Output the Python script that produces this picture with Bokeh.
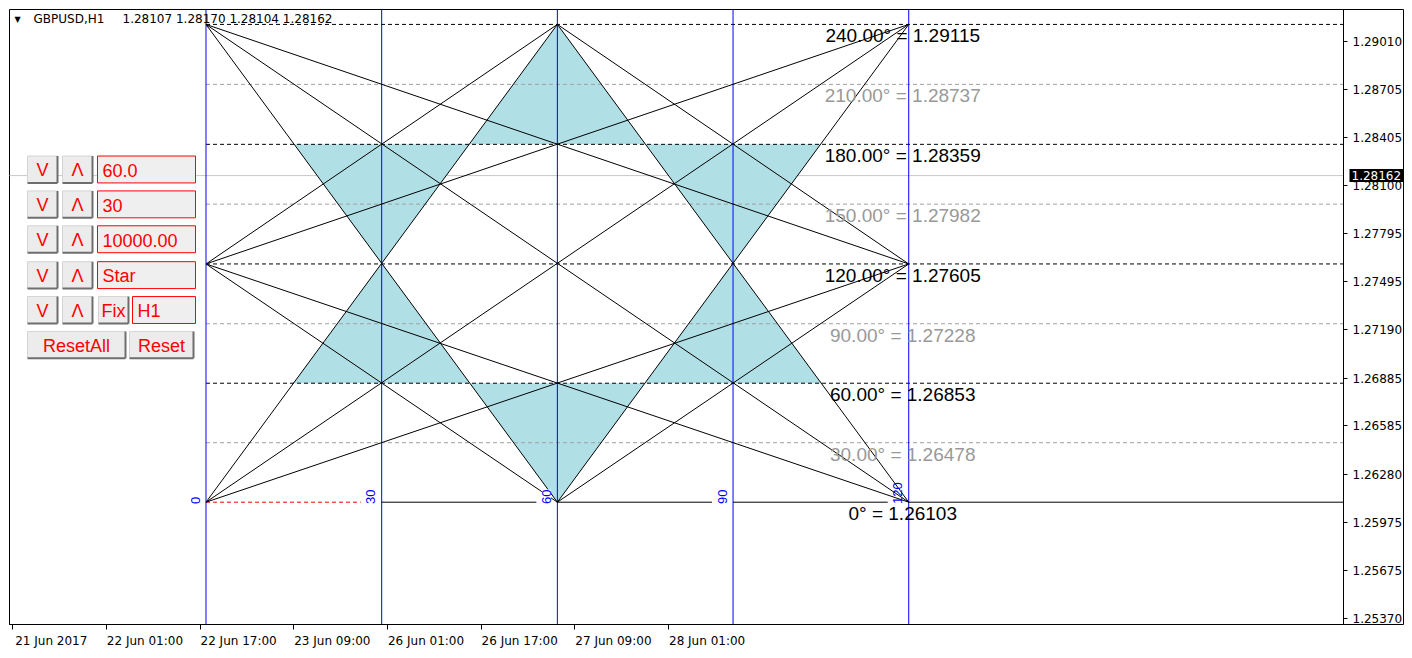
from math import pi
from bokeh.plotting import figure
from bokeh.models import (FixedTicker, NumeralTickFormatter, Label, LinearAxis,
                          CustomJSTickFormatter)
from bokeh.core.properties import value
from bokeh.embed import file_html
from bokeh.resources import INLINE

# ---------------- data ----------------
symbol = "GBPUSD,H1"
ohlc = ["1.28107", "1.28170", "1.28104", "1.28162"]
last_price = 1.28162

vline_bars = [0, 30, 60, 90, 120]
vline_labels = ["0", "30", "60", "90", "120"]
level_degrees = [0, 30, 60, 90, 120, 150, 180, 210, 240]
level_prices = [1.26103, 1.26478, 1.26853, 1.27228, 1.27605, 1.27982, 1.28359, 1.28737, 1.29115]

# star lines: (vertical-line index, level index) -> (vertical-line index, level index)
star_from = [(0, 8), (0, 8), (0, 8), (0, 4), (0, 4), (0, 4), (0, 4),
             (0, 0), (0, 0), (0, 0), (2, 8), (2, 8), (2, 0), (2, 0)]
star_to = [(2, 0), (4, 0), (4, 4), (2, 8), (4, 8), (2, 0), (4, 0),
           (2, 8), (4, 8), (4, 4), (4, 4), (4, 0), (4, 4), (4, 8)]

y_ticks = [1.29010, 1.28705, 1.28405, 1.28100, 1.27795, 1.27495, 1.27190,
           1.26885, 1.26585, 1.26280, 1.25975, 1.25675, 1.25370]
x_tick_bars = [-33, -17, -1, 15, 31, 47, 63, 79]
x_tick_labels = ["21 Jun 2017", "22 Jun 01:00", "22 Jun 17:00", "23 Jun 09:00",
                 "26 Jun 01:00", "26 Jun 17:00", "27 Jun 09:00", "28 Jun 01:00"]

panel_inputs = ["60.0", "30", "10000.00", "Star", "H1"]

# ---------------- layout ----------------
W, H = 1404, 650
FRAME_H = 617
BAR_PX = 5.856
X_START = -(205.5 - 9) / BAR_PX
X_END = X_START + (W - 9) / BAR_PX          # frame also spans the price scale
Y_BOT, Y_TOP = 1.25332, 1.29209
PRICE_PX = FRAME_H / (Y_TOP - Y_BOT)


def px2x(px):
    return X_START + (px - 9) / BAR_PX


def px2y(py):
    return Y_TOP - (py - 9) / PRICE_PX


CHART_R = px2x(1343)   # right edge of the chart window (price-scale line)

p = figure(width=W, height=H, x_range=(X_START, X_END), y_range=(Y_BOT, Y_TOP),
           y_axis_location="right", output_backend="svg", toolbar_location=None,
           min_border_left=9, min_border_top=9, min_border_right=0, min_border_bottom=24)
p.grid.visible = False
p.outline_line_color = "black"
p.background_fill_color = "white"
p.border_fill_color = "white"

# price scale (drawn at the chart's right edge)
p.yaxis.fixed_location = CHART_R
p.yaxis.ticker = FixedTicker(ticks=y_ticks)
p.yaxis.formatter = NumeralTickFormatter(format="0.00000")
p.yaxis.major_tick_out = 4
p.yaxis.major_tick_in = 0
p.yaxis.minor_tick_line_color = None
p.yaxis.major_label_standoff = 5
p.yaxis.major_label_text_font = "DejaVu Sans"
p.yaxis.major_label_text_font_size = "12px"
p.yaxis.major_label_text_color = "black"
p.yaxis.axis_line_color = "black"

# time scale: ticks on the main axis, labels (starting at each tick) on a second axis
p.xaxis.ticker = FixedTicker(ticks=x_tick_bars)
p.xaxis.formatter = CustomJSTickFormatter(code="return ''")
p.xaxis.bounds = (X_START, CHART_R)
p.xaxis.major_tick_out = 5
p.xaxis.major_tick_in = 0
p.xaxis.minor_tick_line_color = None
p.xaxis.major_label_text_font_size = "1px"
p.xaxis.major_label_standoff = 0
p.xaxis.axis_line_color = "black"

LABEL_HALF_PX = 38.5
lab_axis = LinearAxis(
    ticker=FixedTicker(ticks=[b + LABEL_HALF_PX / BAR_PX for b in x_tick_bars]),
    formatter=CustomJSTickFormatter(args=dict(labels=x_tick_labels),
                                    code="return labels[index] || ''"),
    axis_line_color=None, major_tick_line_color=None, minor_tick_line_color=None,
    major_label_standoff=-2, major_label_text_font="DejaVu Sans",
    major_label_text_font_size="12px", major_label_text_color="black")
p.add_layout(lab_axis, "below")

# current price line
p.segment(x0=[X_START - 1], y0=[last_price], x1=[CHART_R], y1=[last_price],
          line_color="#c8c8c8", line_width=1)


# ---------------- star geometry ----------------
def pt(ix):
    vi, li = ix
    return vline_bars[vi], level_prices[li]


def x_on(line, y):
    (x0, y0), (x1, y1) = pt(line[0]), pt(line[1])
    return x0 + (y - y0) * (x1 - x0) / (y1 - y0)


def cross(l1, l2):
    (x1, y1), (x2, y2) = pt(l1[0]), pt(l1[1])
    (x3, y3), (x4, y4) = pt(l2[0]), pt(l2[1])
    den = (x1 - x2) * (y3 - y4) - (y1 - y2) * (x3 - x4)
    t = ((x1 - x3) * (y3 - y4) - (y1 - y3) * (x3 - x4)) / den
    return x1 + t * (x2 - x1), y1 + t * (y2 - y1)


A = ((0, 8), (2, 0))
Hh = ((0, 0), (2, 8))
Lr = ((2, 8), (4, 0))
N = ((2, 0), (4, 8))
L2, L6 = level_prices[2], level_prices[6]

tris = []
tris.append([pt((2, 8)), (x_on(Hh, L6), L6), (x_on(Lr, L6), L6)])
tris.append([cross(A, Hh), (x_on(A, L6), L6), (x_on(Hh, L6), L6)])
tris.append([cross(N, Lr), (x_on(N, L6), L6), (x_on(Lr, L6), L6)])
tris.append([cross(A, Hh), (x_on(A, L2), L2), (x_on(Hh, L2), L2)])
tris.append([cross(N, Lr), (x_on(N, L2), L2), (x_on(Lr, L2), L2)])
tris.append([pt((2, 0)), (x_on(A, L2), L2), (x_on(N, L2), L2)])
p.patches([[v[0] for v in t] for t in tris], [[v[1] for v in t] for t in tris],
          fill_color="#b0e0e6", line_color=None)

# level lines
blk = [i for i, d in enumerate(level_degrees) if d > 0 and d % 60 == 0]
gry = [i for i, d in enumerate(level_degrees) if d % 60 != 0]
for idx, col in ((blk, "black"), (gry, "#a0a0a0")):
    p.segment(x0=[vline_bars[0]] * len(idx), y0=[level_prices[i] for i in idx],
              x1=[CHART_R] * len(idx), y1=[level_prices[i] for i in idx],
              line_color=col, line_width=1, line_dash="4 3")

# vertical lines
p.segment(x0=vline_bars, y0=[Y_BOT - 1] * len(vline_bars), x1=vline_bars,
          y1=[Y_TOP + 1] * len(vline_bars), line_color="#0000ff", line_width=1)

# zero level
gap = 21 / BAR_PX
p.segment(x0=[vline_bars[0]], y0=[level_prices[0]], x1=[vline_bars[1] - gap],
          y1=[level_prices[0]], line_color="red", line_dash="4 3", line_width=1)
z_x0 = vline_bars[1:]
z_x1 = [b - gap for b in vline_bars[2:]] + [CHART_R]
p.segment(x0=z_x0, y0=[level_prices[0]] * len(z_x0), x1=z_x1,
          y1=[level_prices[0]] * len(z_x0), line_color="black", line_width=1)

# star lines
p.segment(x0=[pt(a)[0] for a in star_from], y0=[pt(a)[1] for a in star_from],
          x1=[pt(b)[0] for b in star_to], y1=[pt(b)[1] for b in star_to],
          line_color="black", line_width=1)

# level labels
lab_txt = [("%d° = %.5f" % (d, v)) if d == 0 else ("%.2f° = %.5f" % (d, v))
           for d, v in zip(level_degrees, level_prices)]
lab_col = ["black" if d % 60 == 0 else "#999999" for d in level_degrees]
p.text(x=[vline_bars[4] - 6 / BAR_PX] * len(level_prices),
       y=[v - 1 / PRICE_PX for v in level_prices], text=lab_txt, text_color=lab_col,
       text_font=value("Liberation Sans"), text_font_size="19px",
       text_align="center", text_baseline="top")

# vertical-line labels (rotated)
for i, (b, t) in enumerate(zip(vline_bars, vline_labels)):
    kw = dict(background_fill_color="white") if i < len(vline_bars) - 1 else {}
    p.add_layout(Label(x=b - 11 / BAR_PX, y=level_prices[0] - 1.7 / PRICE_PX, text=t,
                       angle=pi / 2, text_align="left", text_baseline="alphabetic",
                       text_color="#0000ff", text_font="Liberation Sans",
                       text_font_size="13px", **kw))

# ---------------- control panel ----------------
rows_top = [156, 191, 226, 262, 297, 332]
BH = 27
buttons = []
for r in range(5):
    buttons.append((27, 57, rows_top[r], "V"))
    buttons.append((62, 92, rows_top[r], "Λ"))
buttons.append((98, 128, rows_top[4], "Fix"))
buttons.append((27, 125, rows_top[5], "ResetAll"))
buttons.append((129, 193, rows_top[5], "Reset"))
inputs = [(97, 195, rows_top[r], panel_inputs[r]) for r in range(4)]
inputs.append((132, 195, rows_top[4], panel_inputs[4]))

p.quad(left=[px2x(b[0]) for b in buttons], right=[px2x(b[1]) for b in buttons],
       top=[px2y(b[2]) for b in buttons], bottom=[px2y(b[2] + BH) for b in buttons],
       fill_color="#ececec", line_color=None)
p.segment(x0=[px2x(b[0]) for b in buttons] * 2,
          y0=[px2y(b[2]) for b in buttons] * 2,
          x1=[px2x(b[1]) for b in buttons] + [px2x(b[0]) for b in buttons],
          y1=[px2y(b[2]) for b in buttons] + [px2y(b[2] + BH) for b in buttons],
          line_color="#d4d4d4", line_width=1)
p.segment(x0=[px2x(b[0]) for b in buttons] + [px2x(b[1]) for b in buttons],
          y0=[px2y(b[2] + BH) for b in buttons] + [px2y(b[2]) for b in buttons],
          x1=[px2x(b[1]) for b in buttons] * 2,
          y1=[px2y(b[2] + BH) for b in buttons] * 2,
          line_color="#6e6e6e", line_width=2)
p.text(x=[px2x((b[0] + b[1]) / 2) for b in buttons],
       y=[px2y(b[2] + BH / 2 + 1) for b in buttons], text=[b[3] for b in buttons],
       text_color="#ff0000", text_font=value("Liberation Sans"), text_font_size="18px",
       text_align="center", text_baseline="middle")

p.quad(left=[px2x(b[0]) for b in inputs], right=[px2x(b[1]) for b in inputs],
       top=[px2y(b[2]) for b in inputs], bottom=[px2y(b[2] + BH) for b in inputs],
       fill_color="#efefef", line_color="#ff0000", line_width=1)
p.text(x=[px2x(b[0] + 5) for b in inputs],
       y=[px2y(b[2] + BH / 2 + 1) for b in inputs], text=[b[3] for b in inputs],
       text_color="#ff0000", text_font=value("Liberation Sans"), text_font_size="18px",
       text_align="left", text_baseline="middle")

# ---------------- texts ----------------
p.add_layout(Label(x=px2x(14), y=px2y(19), text="▼", text_font="DejaVu Sans",
                   text_font_size="8px", text_baseline="middle", text_color="black"))
p.add_layout(Label(x=px2x(33), y=px2y(19), text=symbol, text_font="DejaVu Sans",
                   text_font_size="12px", text_baseline="middle", text_color="black"))
p.add_layout(Label(x=px2x(122), y=px2y(19), text=" ".join(ohlc), text_font="DejaVu Sans",
                   text_font_size="12px", text_baseline="middle", text_color="black"))

# current price marker on the price scale
p.add_layout(Label(x=px2x(1349), y=last_price, text="%.5f" % last_price,
                   text_font="DejaVu Sans", text_font_size="12px", text_color="white",
                   text_align="left", text_baseline="middle", level="overlay",
                   background_fill_color="black", padding=2))

open("out.html", "w").write(file_html(p, INLINE))
